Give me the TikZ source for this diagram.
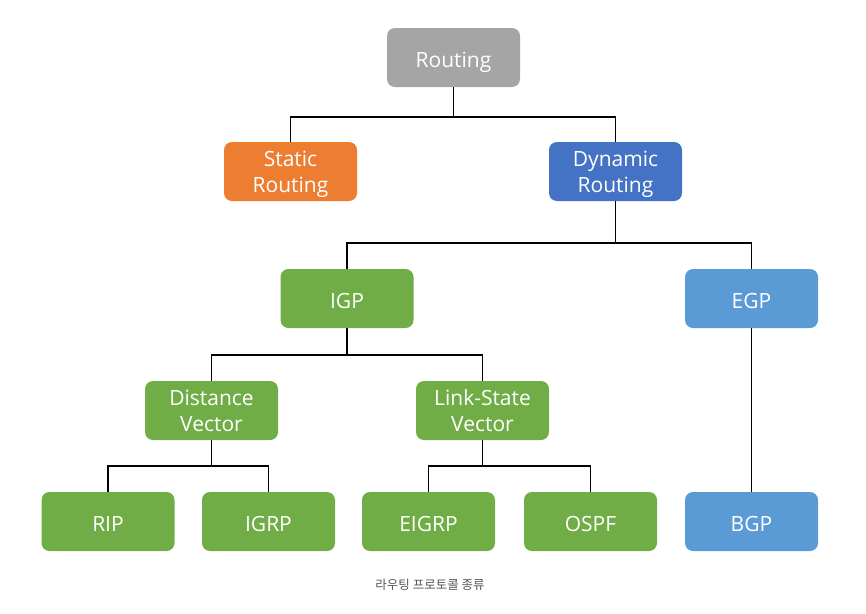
\documentclass[tikz,border=0pt]{standalone}
\usepackage{fontspec}
\setmainfont{Open Sans}
\newfontfamily\cjk{Noto Sans CJK KR}
\usetikzlibrary{positioning}
\definecolor{boxgray}{HTML}{A5A5A5}
\definecolor{boxorange}{HTML}{ED7D31}
\definecolor{boxblue}{HTML}{4472C4}
\definecolor{boxgreen}{HTML}{70AD47}
\definecolor{boxsky}{HTML}{5B9BD5}
\definecolor{captiongray}{HTML}{555555}
\newcommand{\boxlines}[2]{\begin{tabular}{@{}c@{}}\rule{0pt}{24pt}#1\\#2\end{tabular}}

\begin{document}
\begin{tikzpicture}[x=1pt, y=-1pt,
  every node/.style={rectangle, rounded corners=8pt, minimum width=133pt, minimum height=59pt,
    text=white, inner sep=0pt,
    font=\fontsize{21}{26}\selectfont},
  oneline/.style={execute at begin node={\rule{0pt}{25pt}},
    execute at end node={\rule[-5.5pt]{0pt}{5.5pt}}},
  link/.style={draw=black, line width=1.8pt}]
\useasboundingbox (0,0) rectangle (866,613);

\node[fill=boxgray, oneline] (routing) at (453.5,57.5) {Routing};
\node[fill=boxorange] (static) at (290.5,171.5) {\boxlines{Static}{Routing}};
\node[fill=boxblue] (dynamic) at (615.5,171.5) {\boxlines{Dynamic}{Routing}};
\node[fill=boxgreen, oneline] (igp) at (347,298.5) {IGP};
\node[fill=boxsky, oneline] (egp) at (751.5,298.5) {EGP};
\node[fill=boxgreen] (dv) at (211.5,410.5) {\boxlines{Distance}{Vector}};
\node[fill=boxgreen] (ls) at (482.5,410.5) {\boxlines{Link-State}{Vector}};
\node[fill=boxgreen, oneline] (rip) at (108,521.5) {RIP};
\node[fill=boxgreen, oneline] (igrp) at (268.5,521.5) {IGRP};
\node[fill=boxgreen, oneline] (eigrp) at (428.5,521.5) {EIGRP};
\node[fill=boxgreen, oneline] (ospf) at (590.5,521.5) {OSPF};
\node[fill=boxsky, oneline] (bgp) at (751.5,521.5) {BGP};

\draw[link] (routing.south) -- ++(0,30) -| (static.north);
\draw[link] (routing.south) -- ++(0,30) -| (dynamic.north);
\draw[link] (dynamic.south) -- ++(0,42) -| (igp.north);
\draw[link] (dynamic.south) -- ++(0,42) -| (egp.north);
\draw[link] (igp.south) -- ++(0,27) -| (dv.north);
\draw[link] (igp.south) -- ++(0,27) -| (ls.north);
\draw[link] (dv.south) -- ++(0,26) -| (rip.north);
\draw[link] (dv.south) -- ++(0,26) -| (igrp.north);
\draw[link] (ls.south) -- ++(0,26) -| (eigrp.north);
\draw[link] (ls.south) -- ++(0,26) -| (ospf.north);
\draw[link] (egp.south) -- (bgp.north);

\node[minimum width=0pt, minimum height=0pt, rounded corners=0pt, text=captiongray,
  font=\cjk\fontsize{12.5}{14}\selectfont] (caption) at (430,585) {라우팅 프로토콜 종류};
\end{tikzpicture}
\end{document}
